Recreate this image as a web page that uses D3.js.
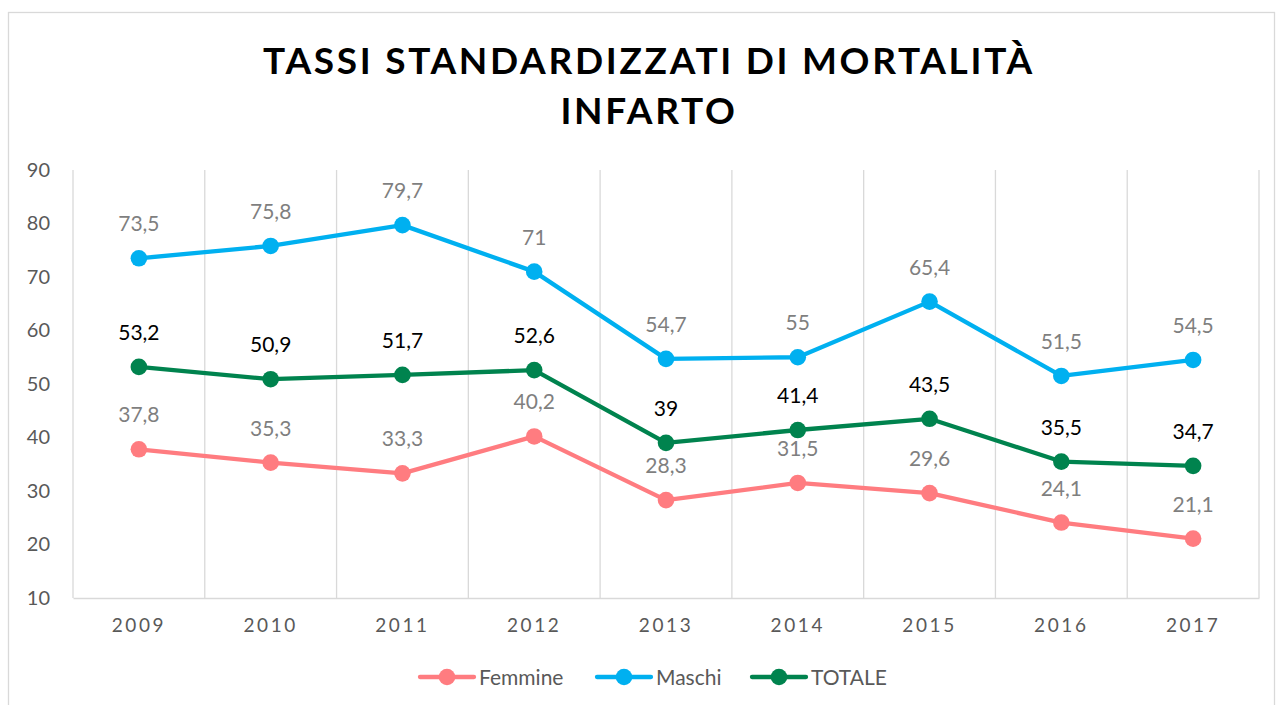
<!DOCTYPE html>
<html>
<head>
<meta charset="utf-8">
<script src="https://cdn.jsdelivr.net/npm/d3@7"></script>
<style>
  body { margin: 0; background: #fff; }
  svg { display: block; font-family: Lato, "Open Sans", sans-serif; }
</style>
</head>
<body>
<div class="chartContainer"></div>
<script>
// Data
const years = ["2009", "2010", "2011", "2012", "2013", "2014", "2015", "2016", "2017"];
const femmine = [37.8, 35.3, 33.3, 40.2, 28.3, 31.5, 29.6, 24.1, 21.1];
const maschi = [73.5, 75.8, 79.7, 71, 54.7, 55, 65.4, 51.5, 54.5];
const totale = [53.2, 50.9, 51.7, 52.6, 39, 41.4, 43.5, 35.5, 34.7];
const yTicks = [10, 20, 30, 40, 50, 60, 70, 80, 90];

const series = [
  { name: "Femmine", values: femmine, color: "#FF7C80", label: "#7f7f7f" },
  { name: "Maschi", values: maschi, color: "#00B0F0", label: "#7f7f7f" },
  { name: "TOTALE", values: totale, color: "#00834E", label: "#000" }
];

const W = 1279;
const H = 705;
const M = { left: 73, right: 1259, top: 170, bottom: 598 };

const svg = d3.select(".chartContainer").append("svg")
  .attr("width", W).attr("height", H);

// chart border
svg.append("rect")
  .attr("x", 8.5).attr("y", 12.5)
  .attr("width", 1266).attr("height", 720)
  .attr("fill", "#fff").attr("stroke", "#d9d9d9").attr("stroke-width", 1.3);

// Title
const title = svg.append("text")
  .attr("text-anchor", "middle")
  .attr("font-weight", "bold")
  .attr("font-size", 37)
  .attr("letter-spacing", "2.7px")
  .attr("fill", "#000");
title.append("tspan").attr("x", 649).attr("y", 74).text("TASSI STANDARDIZZATI DI MORTALITÀ");
title.append("tspan").attr("x", 649).attr("y", 124).text("INFARTO");

// Scales
const x = d3.scaleBand().domain(years).range([M.left, M.right]);
const y = d3.scaleLinear().domain([10, 90]).range([M.bottom, M.top]);

// Vertical gridlines between categories
svg.append("g")
  .selectAll("line")
  .data(years)
  .enter()
  .append("line")
  .attr("x1", (d) => x(d) + x.bandwidth())
  .attr("x2", (d) => x(d) + x.bandwidth())
  .attr("y1", M.top).attr("y2", M.bottom)
  .attr("stroke", "#d9d9d9").attr("stroke-width", 1.3);

// left edge of plot
svg.append("line")
  .attr("x1", M.left).attr("x2", M.left)
  .attr("y1", M.top).attr("y2", M.bottom)
  .attr("stroke", "#d9d9d9").attr("stroke-width", 1.3);

// X axis
const xAxis = svg.append("g")
  .attr("transform", `translate(0,${M.bottom})`)
  .call(d3.axisBottom(x).tickSize(0).tickPadding(21));
xAxis.select(".domain").attr("stroke", "#d9d9d9").attr("stroke-width", 1.3);
xAxis.selectAll("text")
  .attr("font-family", "Lato, sans-serif")
  .attr("font-size", 19)
  .attr("letter-spacing", "2.6px")
  .attr("fill", "#595959");

// Y axis
const yAxis = svg.append("g")
  .attr("transform", `translate(${M.left},0)`)
  .call(d3.axisLeft(y).tickValues(yTicks).tickSize(0).tickPadding(23));
yAxis.select(".domain").remove();
yAxis.selectAll("text")
  .attr("font-family", "Lato, sans-serif")
  .attr("font-size", 20)
  .attr("fill", "#595959");

const cx = (i) => x(years[i]) + x.bandwidth() / 2;
const line = d3.line().x((d, i) => cx(i)).y((d) => y(d));

const fmt = (v) => String(v).replace(".", ",");

series.forEach((s) => {
  const g = svg.append("g");
  g.append("path")
    .attr("d", line(s.values))
    .attr("fill", "none")
    .attr("stroke", s.color)
    .attr("stroke-width", 4.3)
    .attr("stroke-linejoin", "round");
  g.selectAll("circle")
    .data(s.values)
    .enter()
    .append("circle")
    .attr("cx", (d, i) => cx(i))
    .attr("cy", (d) => y(d))
    .attr("r", 8.3)
    .attr("fill", s.color);
  g.selectAll("text")
    .data(s.values)
    .enter()
    .append("text")
    .attr("x", (d, i) => cx(i))
    .attr("y", (d) => y(d) - 27)
    .attr("text-anchor", "middle")
    .attr("font-size", 21)
    .attr("fill", s.label)
    .text((d) => fmt(d));
});

// Legend
const legendX = [420, 597, 752];
const legend = svg.append("g");
series.forEach((s, i) => {
  const lg = legend.append("g").attr("transform", `translate(${legendX[i]},677)`);
  lg.append("line").attr("x1", 0).attr("x2", 54).attr("y1", 0).attr("y2", 0)
    .attr("stroke", s.color).attr("stroke-width", 4.3).attr("stroke-linecap", "round");
  lg.append("circle").attr("cx", 27).attr("cy", 0).attr("r", 8.3).attr("fill", s.color);
  lg.append("text").attr("x", 59).attr("y", 8)
    .attr("font-size", 21).attr("fill", "#595959").text(s.name);
});
</script>
</body>
</html>
